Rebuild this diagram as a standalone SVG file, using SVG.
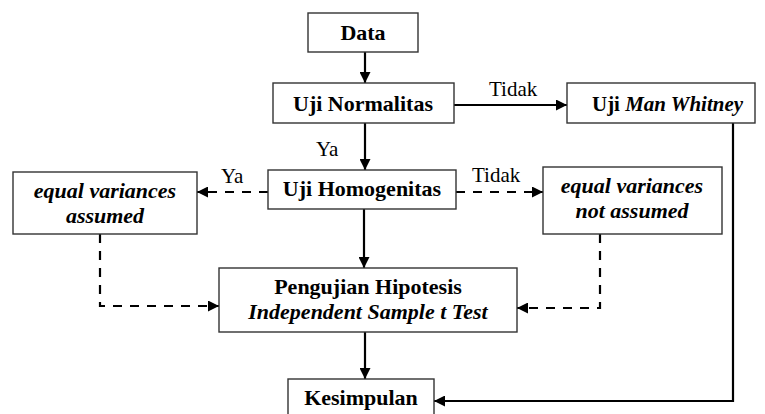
<svg xmlns="http://www.w3.org/2000/svg" width="765" height="414" viewBox="0 0 765 414">
<style>
.box{fill:#fff;stroke:#333;stroke-width:1.4}
.t{font-family:"Liberation Serif","Times New Roman",serif;font-size:22px;fill:#000;text-anchor:middle}
.b{font-weight:bold}
.i{font-style:italic}
.lbl{font-family:"Liberation Serif","Times New Roman",serif;font-size:21px;fill:#000}
.c{fill:none;stroke:#000;stroke-width:2.2}
.d{stroke-dasharray:9 8}
</style>
<defs>
<marker id="ah" viewBox="0 0 10 10" refX="10" refY="5" markerWidth="11" markerHeight="11" markerUnits="userSpaceOnUse" orient="auto">
<path d="M0,0 L10,5 L0,10 z" fill="#000"/>
</marker>
</defs>
<g id="connectors">
<path class="c" d="M365 52 V83" marker-end="url(#ah)"/>
<path class="c" d="M454 105 H567" marker-end="url(#ah)"/>
<path class="c" d="M365 123 V170" marker-end="url(#ah)"/>
<path class="c d" d="M268 192 H197" marker-end="url(#ah)"/>
<path class="c d" d="M456 192 H543" marker-end="url(#ah)"/>
<path class="c" d="M364 209 V268" marker-end="url(#ah)"/>
<path class="c d" d="M100 234 V306 H219" marker-end="url(#ah)"/>
<path class="c d" d="M600 234 V308 H517" marker-end="url(#ah)"/>
<path class="c" d="M365 332 V379" marker-end="url(#ah)"/>
<path class="c" d="M733 123 V401 H434" marker-end="url(#ah)"/>
<text class="lbl" x="489" y="96">Tidak</text>
<text class="lbl" x="316" y="156">Ya</text>
<text class="lbl" x="221" y="183">Ya</text>
<text class="lbl" x="472" y="182">Tidak</text>
</g>
<g id="data">
<rect class="box" x="308" y="13" width="110" height="39"/>
<text class="t b" x="363" y="40">Data</text>
</g>
<g id="normalitas">
<rect class="box" x="273" y="83" width="181" height="40"/>
<text class="t b" x="363" y="111">Uji Normalitas</text>
</g>
<g id="manwhitney">
<rect class="box" x="567" y="83" width="188" height="40"/>
<text class="t b" x="592" y="111" style="text-anchor:start" textLength="151" lengthAdjust="spacingAndGlyphs">Uji <tspan class="i">Man Whitney</tspan></text>
</g>
<g id="homogenitas">
<rect class="box" x="268" y="170" width="188" height="39"/>
<text class="t b" x="362" y="196">Uji Homogenitas</text>
</g>
<g id="assumed">
<rect class="box" x="13" y="172" width="184" height="62"/>
<text class="t b i" x="105" y="198">equal variances</text>
<text class="t b i" x="105" y="223">assumed</text>
</g>
<g id="notassumed">
<rect class="box" x="543" y="167" width="179" height="67"/>
<text class="t b i" x="632" y="193">equal variances</text>
<text class="t b i" x="632" y="218">not assumed</text>
</g>
<g id="pengujian">
<rect class="box" x="219" y="268" width="298" height="64"/>
<text class="t b" x="368" y="294">Pengujian Hipotesis</text>
<text class="t b i" x="368" y="319">Independent Sample t Test</text>
</g>
<g id="kesimpulan">
<rect class="box" x="288" y="379" width="146" height="40"/>
<text class="t b" x="361" y="405">Kesimpulan</text>
</g>
</svg>
